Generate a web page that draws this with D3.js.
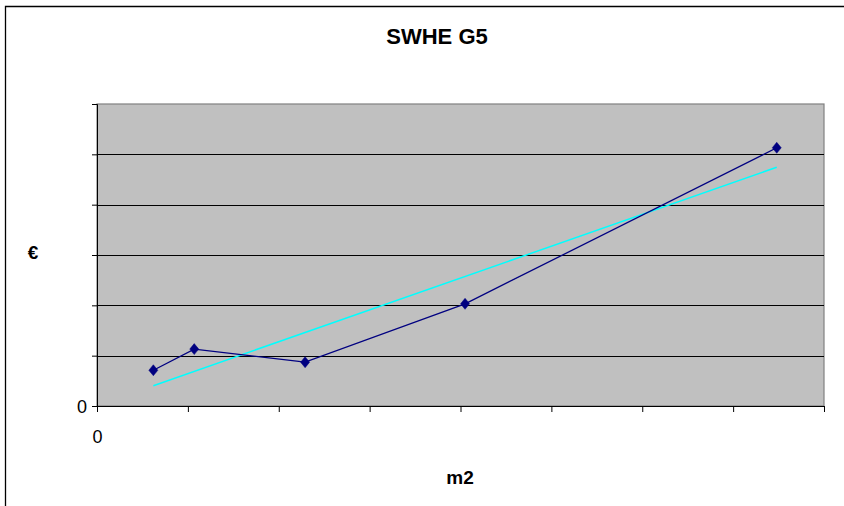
<!DOCTYPE html>
<html><head><meta charset="utf-8">
<script src="https://cdn.jsdelivr.net/npm/d3@7"></script>
<style>html,body{margin:0;background:#fff;overflow:hidden}svg{display:block;overflow:hidden}</style>
</head><body>
<svg id="c" width="844" height="506"></svg>
<script>
// Data (units unlabeled in original)
const areaM2 = [62, 107, 229, 405, 748];
const costEur = [71, 113, 87, 203, 513];
const xTicks = [0, 100, 200, 300, 400, 500, 600, 700, 800];
const yTicks = [0, 100, 200, 300, 400, 500, 600];
const xTickLabels = ["0", "", "", "", "", "", "", "", ""];
const yTickLabels = ["0", "", "", "", "", "", ""];
const title = "SWHE G5";
const xTitle = "m2";
const yTitle = "€";

const FONT = "Liberation Sans, Arial, sans-serif";
const svg = d3.select("#c");
const m = {l: 97, r: 824, t: 104, b: 406};
const x = d3.scaleLinear().domain([0, 800]).range([m.l, m.r]);
const y = d3.scaleLinear().domain([0, 600]).range([m.b, m.t]);

// outer border (right/bottom edges lie outside the picture)
svg.append("path").attr("d", "M5.5,520V6.5H860")
  .attr("fill", "none").attr("stroke", "#000").attr("stroke-width", 1.3);

// plot area
svg.append("rect").attr("x", m.l).attr("y", m.t).attr("width", m.r - m.l).attr("height", m.b - m.t)
  .attr("fill", "#c0c0c0").attr("stroke", "#808080").attr("stroke-width", 1.2);

// gridlines
svg.append("g").selectAll("line").data(yTicks.filter(d => d > 0 && d < 600)).join("line")
  .attr("x1", m.l).attr("x2", m.r).attr("y1", d => Math.round(y(d)) + 0.5).attr("y2", d => Math.round(y(d)) + 0.5)
  .attr("stroke", "#000").attr("stroke-width", 1);

// y axis
const yAxis = d3.axisLeft(y).tickValues(yTicks).tickSize(5).tickPadding(5)
  .tickFormat((d, i) => yTickLabels[i]);
const gy = svg.append("g").attr("transform", `translate(${m.l},0)`).call(yAxis)
  .attr("font-size", null).attr("font-family", null);
gy.select(".domain").attr("stroke", "#000");
gy.selectAll(".tick line").attr("stroke", "#000");
gy.selectAll("text").style("font-family", FONT).style("font-size", "18px").attr("fill", "#000").attr("dy", "0.36em");

// x axis
const xAxis = d3.axisBottom(x).tickValues(xTicks).tickSize(6).tickPadding(18)
  .tickFormat((d, i) => xTickLabels[i]);
const gx = svg.append("g").attr("transform", `translate(0,${m.b})`).call(xAxis)
  .attr("font-size", null).attr("font-family", null);
gx.select(".domain").attr("stroke", "#000");
gx.selectAll(".tick line").attr("stroke", "#000");
gx.selectAll("text").style("font-family", FONT).style("font-size", "18px").attr("fill", "#000");

// linear trendline (least squares)
const mx = d3.mean(areaM2), my = d3.mean(costEur);
const slope = d3.sum(areaM2.map((v, i) => (v - mx) * (costEur[i] - my))) / d3.sum(areaM2.map(v => (v - mx) ** 2));
const icpt = my - slope * mx;
const tx = [d3.min(areaM2), d3.max(areaM2)];
svg.append("line")
  .attr("x1", x(tx[0])).attr("y1", y(icpt + slope * tx[0]))
  .attr("x2", x(tx[1])).attr("y2", y(icpt + slope * tx[1]))
  .attr("stroke", "#00ffff").attr("stroke-width", 1.5);

// series line
const pts = areaM2.map((v, i) => [v, costEur[i]]);
svg.append("path").datum(pts)
  .attr("d", d3.line().x(d => x(d[0])).y(d => y(d[1])))
  .attr("fill", "none").attr("stroke", "#000080").attr("stroke-width", 1.3);

// diamond markers
svg.append("g").selectAll("path").data(pts).join("path")
  .attr("transform", d => `translate(${x(d[0])},${y(d[1])})`)
  .attr("d", "M0,-5.5L4.5,0L0,5.5L-4.5,0Z")
  .attr("fill", "#000080").attr("stroke", "#000080").attr("stroke-width", 0.5);

// titles
svg.append("text").attr("x", 437).attr("y", 44).attr("text-anchor", "middle")
  .style("font-family", FONT).attr("font-weight", "bold").style("font-size", "22px")
  .text(title);
svg.append("text").attr("x", 460).attr("y", 484).attr("text-anchor", "middle")
  .style("font-family", FONT).attr("font-weight", "bold").style("font-size", "19px")
  .text(xTitle);
svg.append("text").attr("x", 33).attr("y", 259).attr("text-anchor", "middle")
  .style("font-family", FONT).attr("font-weight", "bold").style("font-size", "19px")
  .text(yTitle);
</script>
</body></html>
